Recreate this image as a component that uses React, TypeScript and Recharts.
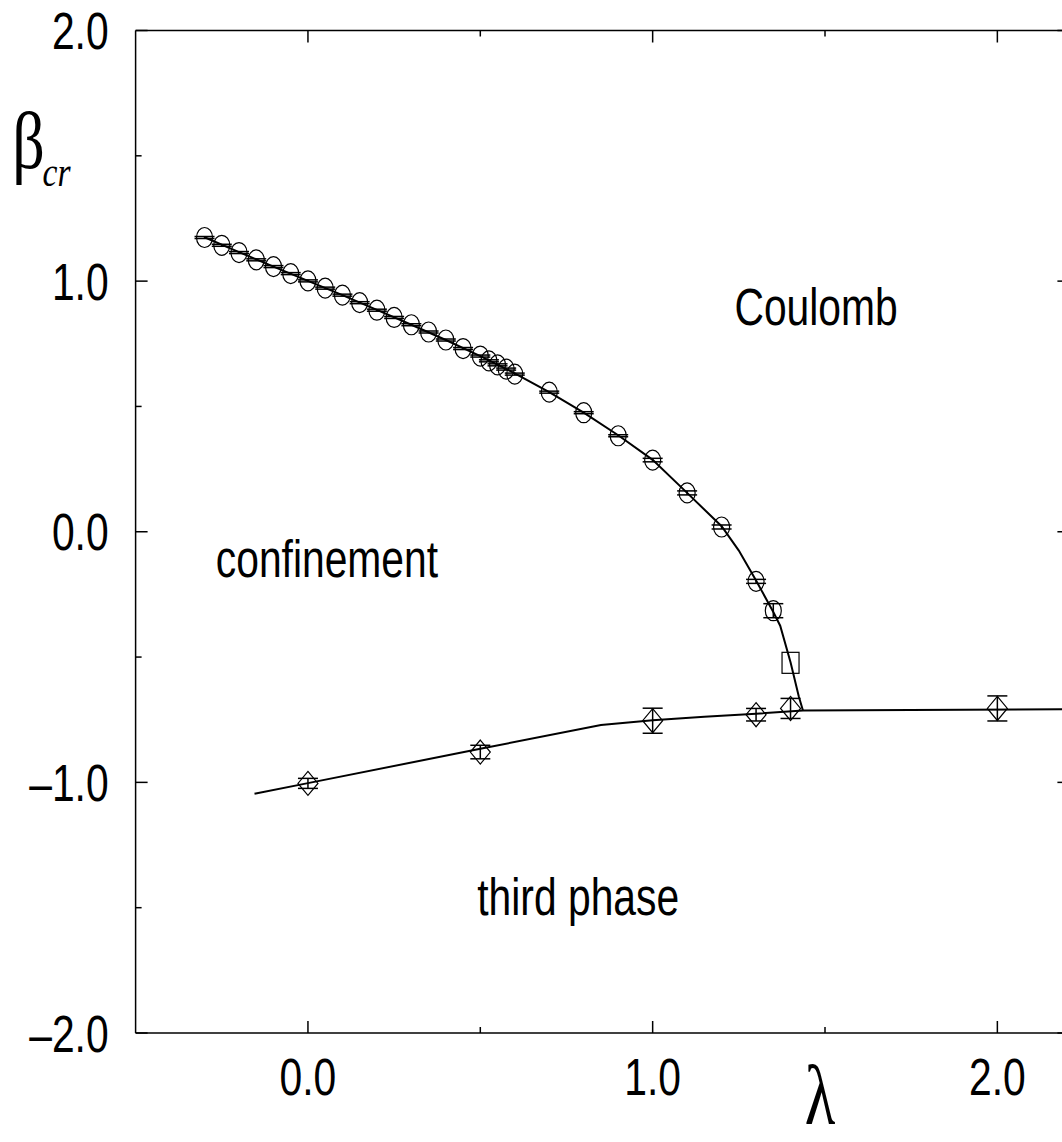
import {
  ComposedChart,
  Line,
  Scatter,
  XAxis,
  YAxis,
  ErrorBar,
  ReferenceDot,
} from 'recharts';

// upper branch, measured points (circles)
const circleLambda = [
  -0.3, -0.25, -0.2, -0.15, -0.1, -0.05, 0.0, 0.05, 0.1, 0.15, 0.2, 0.25, 0.3, 0.35, 0.4,
  0.45, 0.5, 0.525, 0.55, 0.575, 0.6, 0.7, 0.8, 0.9, 1.0, 1.1, 1.2, 1.3, 1.35,
];
const circleBeta = [
  1.174, 1.143, 1.114, 1.085, 1.058, 1.03, 1.001, 0.972, 0.944, 0.914, 0.884, 0.855, 0.826,
  0.797, 0.765, 0.731, 0.701, 0.682, 0.666, 0.649, 0.629, 0.557, 0.475, 0.383, 0.286, 0.155,
  0.019, -0.198, -0.315,
];
const circleErr = [
  0.004, 0.004, 0.004, 0.004, 0.004, 0.004, 0.004, 0.004, 0.004, 0.004, 0.004, 0.004, 0.004,
  0.004, 0.004, 0.004, 0.004, 0.004, 0.004, 0.004, 0.004, 0.004, 0.004, 0.004, 0.007, 0.008,
  0.008, 0.008, 0.028,
];

// square point
const squareLambda = [1.4];
const squareBeta = [-0.523];

// lower branch, measured points (diamonds)
const diamondLambda = [0.0, 0.5, 1.0, 1.3, 1.4, 2.0];
const diamondBeta = [-1.004, -0.879, -0.754, -0.73, -0.705, -0.705];
const diamondErr = [0.02, 0.027, 0.05, 0.025, 0.04, 0.05];

// fitted curves
const upperFitLambda = [
  -0.3, -0.2, -0.1, 0.0, 0.1, 0.2, 0.3, 0.4, 0.5, 0.6, 0.7, 0.8, 0.9, 1.0, 1.1, 1.2, 1.25,
  1.3, 1.35, 1.37, 1.4, 1.424, 1.436,
];
const upperFitBeta = [
  1.175, 1.116, 1.058, 1.001, 0.944, 0.885, 0.826, 0.765, 0.701, 0.632, 0.557, 0.475, 0.385,
  0.287, 0.155, 0.022, -0.075, -0.195, -0.32, -0.375, -0.521, -0.657, -0.713,
];
const lowerFitLambda = [-0.155, 0.0, 0.5, 0.85, 1.0, 1.15, 1.3, 1.436, 2.2];
const lowerFitBeta = [-1.045, -1.003, -0.866, -0.771, -0.752, -0.738, -0.726, -0.713, -0.708];

// axis ticks
const xTicks = [0, 0.5, 1.0, 1.5, 2.0];
const yTicks = [-2.0, -1.5, -1.0, -0.5, 0.0, 0.5, 1.0, 1.5, 2.0];

// phase labels
const phaseNames = ['Coulomb', 'confinement', 'third phase'];
const phaseLambda = [1.474, 0.055, 0.784];
const phaseBeta = [0.825, -0.181, -1.529];

const circles = circleLambda.map((x, i) => ({ x, y: circleBeta[i], err: circleErr[i] }));
const squares = squareLambda.map((x, i) => ({ x, y: squareBeta[i] }));
const diamonds = diamondLambda.map((x, i) => ({ x, y: diamondBeta[i], err: diamondErr[i] }));
const upperFit = upperFitLambda.map((x, i) => ({ x, y: upperFitBeta[i] }));
const lowerFit = lowerFitLambda.map((x, i) => ({ x, y: lowerFitBeta[i] }));

const SANS = '"Liberation Sans", Arial, Helvetica, sans-serif';
const SERIF = '"Liberation Serif", "Times New Roman", serif';
const MAJOR = 12;
const MINOR = 6;
const FONT = 51;
const SQUEEZE = 0.8;
const X_DOMAIN = [-0.5, 2.209];

const isMajor = (v: number) => Math.abs(v - Math.round(v)) < 1e-6;
const fmt = (v: number) => (v < 0 ? '\u2013' : '') + Math.abs(v).toFixed(1);

const BottomTick = ({ x, y, payload }: any) => {
  const major = isMajor(payload.value);
  return (
    <g>
      <line x1={x} x2={x} y1={y} y2={y - (major ? MAJOR : MINOR)} stroke="#000" strokeWidth={1.5} />
      {major && (
        <text
          transform={`translate(${x},${y + 62}) scale(${SQUEEZE},1)`}
          textAnchor="middle"
          fontFamily={SANS}
          fontSize={FONT}
          fill="#000"
        >
          {fmt(payload.value)}
        </text>
      )}
    </g>
  );
};

const TopTick = ({ x, y, payload }: any) => {
  const major = isMajor(payload.value);
  return <line x1={x} x2={x} y1={y} y2={y + (major ? MAJOR : MINOR)} stroke="#000" strokeWidth={1.5} />;
};

const LeftTick = ({ x, y, payload }: any) => {
  const major = isMajor(payload.value);
  return (
    <g>
      <line x1={x} x2={x + (major ? MAJOR : MINOR)} y1={y} y2={y} stroke="#000" strokeWidth={1.5} />
      {major && (
        <text
          transform={`translate(${x - 27},${y + 18.5}) scale(${SQUEEZE},1)`}
          textAnchor="end"
          fontFamily={SANS}
          fontSize={FONT}
          fill="#000"
        >
          {fmt(payload.value)}
        </text>
      )}
    </g>
  );
};

const RightTick = ({ x, y, payload }: any) => {
  const major = isMajor(payload.value);
  return <line x1={x} x2={x - (major ? MAJOR : MINOR)} y1={y} y2={y} stroke="#000" strokeWidth={1.5} />;
};

// β_cr
const BetaLabel = ({ viewBox }: any) => {
  const x = (viewBox?.x ?? 134.6) + (viewBox?.width ?? 1);
  const y = viewBox?.y ?? 30.5;
  return (
    <g>
      <text
        transform={`translate(${x - 107},${y + 137}) scale(${SQUEEZE},1)`}
        textAnchor="middle"
        fontFamily={SERIF}
        fontSize={80}
        fill="#000"
      >
        β
      </text>
      <text
        transform={`translate(${x - 93},${y + 155}) scale(${SQUEEZE},1)`}
        fontFamily={SERIF}
        fontStyle="italic"
        fontSize={42}
        fill="#000"
      >
        cr
      </text>
    </g>
  );
};

// λ, below the axis between 1.0 and 2.0
const LambdaLabel = () => (
  <text
    transform="translate(820,1124) scale(0.75,1)"
    textAnchor="middle"
    fontFamily={SERIF}
    fontSize={84}
    fill="#000"
  >
    λ
  </text>
);

const Circle = ({ cx, cy }: any) => (
  <ellipse cx={cx} cy={cy} rx={8} ry={10} fill="none" stroke="#000" strokeWidth={1.2} />
);

const Square = ({ cx, cy }: any) => (
  <rect x={cx - 8.5} y={cy - 10.5} width={17} height={21} fill="none" stroke="#000" strokeWidth={1.2} />
);

const Diamond = ({ cx, cy }: any) => (
  <polygon
    points={`${cx},${cy - 12} ${cx + 10},${cy} ${cx},${cy + 12} ${cx - 10},${cy}`}
    fill="none"
    stroke="#000"
    strokeWidth={1.2}
  />
);

export default function App() {
  return (
    <div
      style={{
        position: 'absolute',
        left: 0,
        top: 0,
        width: 1062,
        height: 1142,
        overflow: 'hidden',
        background: '#fff',
      }}
    >
      <ComposedChart
        width={1100}
        height={1142}
        margin={{ top: 29.5, right: 29.6, bottom: 108, left: 134.6 }}
      >
        <XAxis
          type="number"
          dataKey="x"
          domain={X_DOMAIN}
          ticks={xTicks}
          interval={0}
          allowDataOverflow
          height={1}
          tickSize={0}
          tickMargin={0}
          tickLine={false}
          axisLine={{ stroke: '#000', strokeWidth: 1.5 }}
          tick={BottomTick}
          label={<LambdaLabel />}
        />
        <XAxis
          xAxisId="top"
          orientation="top"
          type="number"
          dataKey="x"
          domain={X_DOMAIN}
          ticks={xTicks}
          interval={0}
          allowDataOverflow
          height={1}
          tickSize={0}
          tickMargin={0}
          tickLine={false}
          axisLine={{ stroke: '#000', strokeWidth: 1.5 }}
          tick={TopTick}
        />
        <YAxis
          type="number"
          domain={[-2, 2]}
          ticks={yTicks}
          interval={0}
          allowDataOverflow
          width={1}
          tickSize={0}
          tickMargin={0}
          tickLine={false}
          axisLine={{ stroke: '#000', strokeWidth: 1.5 }}
          tick={LeftTick}
          label={<BetaLabel />}
        />
        <YAxis
          yAxisId="right"
          orientation="right"
          type="number"
          domain={[-2, 2]}
          ticks={yTicks}
          interval={0}
          allowDataOverflow
          width={1}
          tickSize={0}
          tickMargin={0}
          tickLine={false}
          axisLine={{ stroke: '#000', strokeWidth: 1.5 }}
          tick={RightTick}
        />

        <Line
          data={upperFit}
          dataKey="y"
          type="linear"
          stroke="#000"
          strokeWidth={2}
          dot={false}
          activeDot={false}
          isAnimationActive={false}
        />
        <Line
          data={lowerFit}
          dataKey="y"
          type="linear"
          stroke="#000"
          strokeWidth={2}
          dot={false}
          activeDot={false}
          isAnimationActive={false}
        />

        <Scatter data={circles} dataKey="y" shape={Circle} isAnimationActive={false}>
          <ErrorBar dataKey="err" direction="y" width={10} stroke="#000" strokeWidth={1.5} />
        </Scatter>
        <Scatter data={squares} dataKey="y" shape={Square} isAnimationActive={false} />
        <Scatter data={diamonds} dataKey="y" shape={Diamond} isAnimationActive={false}>
          <ErrorBar dataKey="err" direction="y" width={10} stroke="#000" strokeWidth={1.5} />
        </Scatter>

        {phaseNames.map((name, i) => (
          <ReferenceDot
            key={name}
            x={phaseLambda[i]}
            y={phaseBeta[i]}
            r={0}
            shape={({ cx, cy }: any) => (
              <text
                transform={`translate(${cx},${cy}) scale(${SQUEEZE},1)`}
                textAnchor="middle"
                fontFamily={SANS}
                fontSize={FONT}
                fill="#000"
              >
                {name}
              </text>
            )}
          />
        ))}
      </ComposedChart>
    </div>
  );
}
